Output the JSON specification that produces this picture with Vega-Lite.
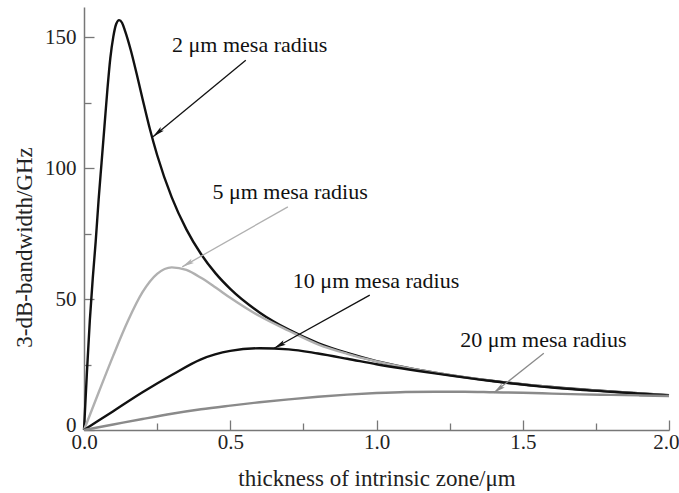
{
  "$schema": "https://vega.github.io/schema/vega-lite/v6.json",
  "width": 585,
  "height": 423,
  "autosize": "none",
  "padding": {"left": 84, "top": 7, "right": 10, "bottom": 63},
  "background": "white",
  "config": {
    "view": {"stroke": null},
    "font": "Liberation Serif",
    "axis": {
      "labelFont": "Liberation Serif",
      "titleFont": "Liberation Serif",
      "labelFontSize": 21,
      "titleFontSize": 23,
      "titleFontWeight": "normal",
      "labelColor": "#222",
      "titleColor": "#222",
      "domainColor": "#777",
      "domainWidth": 1.5,
      "tickColor": "#777",
      "tickWidth": 1.3,
      "grid": false
    }
  },
  "datasets": {
    "curves": [
      {"series": "2", "d": 0, "f": 0},
      {"series": "2", "d": 0.01, "f": 22},
      {"series": "2", "d": 0.02, "f": 42},
      {"series": "2", "d": 0.03, "f": 58},
      {"series": "2", "d": 0.04, "f": 72},
      {"series": "2", "d": 0.05, "f": 88},
      {"series": "2", "d": 0.06, "f": 102},
      {"series": "2", "d": 0.07, "f": 116},
      {"series": "2", "d": 0.08, "f": 130},
      {"series": "2", "d": 0.09, "f": 142},
      {"series": "2", "d": 0.1, "f": 150},
      {"series": "2", "d": 0.11, "f": 155},
      {"series": "2", "d": 0.12, "f": 156.5},
      {"series": "2", "d": 0.13, "f": 155.5},
      {"series": "2", "d": 0.14, "f": 152.5},
      {"series": "2", "d": 0.16, "f": 145},
      {"series": "2", "d": 0.18, "f": 136},
      {"series": "2", "d": 0.2, "f": 126.5},
      {"series": "2", "d": 0.225, "f": 115},
      {"series": "2", "d": 0.25, "f": 105},
      {"series": "2", "d": 0.3, "f": 88.8},
      {"series": "2", "d": 0.35, "f": 76.6},
      {"series": "2", "d": 0.4, "f": 67.2},
      {"series": "2", "d": 0.45, "f": 59.8},
      {"series": "2", "d": 0.5, "f": 53.9},
      {"series": "2", "d": 0.6, "f": 44.9},
      {"series": "2", "d": 0.7, "f": 38.3},
      {"series": "2", "d": 0.8, "f": 33.2},
      {"series": "2", "d": 0.9, "f": 29.4},
      {"series": "2", "d": 1.0, "f": 26.3},
      {"series": "2", "d": 1.1, "f": 23.9},
      {"series": "2", "d": 1.2, "f": 21.9},
      {"series": "2", "d": 1.4, "f": 18.7},
      {"series": "2", "d": 1.6, "f": 16.4},
      {"series": "2", "d": 1.8, "f": 14.7},
      {"series": "2", "d": 2.0, "f": 13.3},
      {"series": "5", "d": 0, "f": 0},
      {"series": "5", "d": 0.05, "f": 14.3},
      {"series": "5", "d": 0.1, "f": 28.4},
      {"series": "5", "d": 0.15, "f": 41.6},
      {"series": "5", "d": 0.2, "f": 52.6},
      {"series": "5", "d": 0.25, "f": 59.6},
      {"series": "5", "d": 0.3, "f": 62.1},
      {"series": "5", "d": 0.35, "f": 61.1},
      {"series": "5", "d": 0.4, "f": 58.1},
      {"series": "5", "d": 0.45, "f": 54.4},
      {"series": "5", "d": 0.5, "f": 50.5},
      {"series": "5", "d": 0.6, "f": 43.5},
      {"series": "5", "d": 0.7, "f": 37.9},
      {"series": "5", "d": 0.8, "f": 32.7},
      {"series": "5", "d": 0.9, "f": 29.1},
      {"series": "5", "d": 1.0, "f": 26.2},
      {"series": "5", "d": 1.2, "f": 21.85},
      {"series": "5", "d": 1.4, "f": 18.67},
      {"series": "5", "d": 1.6, "f": 16.38},
      {"series": "5", "d": 1.8, "f": 14.69},
      {"series": "5", "d": 2.0, "f": 13.29},
      {"series": "10", "d": 0, "f": 0},
      {"series": "10", "d": 0.1, "f": 7.2},
      {"series": "10", "d": 0.2, "f": 14.4},
      {"series": "10", "d": 0.3, "f": 21.0},
      {"series": "10", "d": 0.4, "f": 27.0},
      {"series": "10", "d": 0.5, "f": 30.2},
      {"series": "10", "d": 0.6, "f": 31.2},
      {"series": "10", "d": 0.7, "f": 30.8},
      {"series": "10", "d": 0.8, "f": 29.2},
      {"series": "10", "d": 0.9, "f": 27.2},
      {"series": "10", "d": 1.0, "f": 25.1},
      {"series": "10", "d": 1.2, "f": 21.6},
      {"series": "10", "d": 1.4, "f": 18.6},
      {"series": "10", "d": 1.6, "f": 16.2},
      {"series": "10", "d": 1.8, "f": 14.6},
      {"series": "10", "d": 2.0, "f": 13.2},
      {"series": "20", "d": 0, "f": 0},
      {"series": "20", "d": 0.1, "f": 2.1},
      {"series": "20", "d": 0.2, "f": 4.2},
      {"series": "20", "d": 0.3, "f": 6.2},
      {"series": "20", "d": 0.4, "f": 7.9},
      {"series": "20", "d": 0.5, "f": 9.3},
      {"series": "20", "d": 0.6, "f": 10.6},
      {"series": "20", "d": 0.7, "f": 11.7},
      {"series": "20", "d": 0.8, "f": 12.7},
      {"series": "20", "d": 0.9, "f": 13.5},
      {"series": "20", "d": 1.0, "f": 14.1},
      {"series": "20", "d": 1.1, "f": 14.5},
      {"series": "20", "d": 1.2, "f": 14.6},
      {"series": "20", "d": 1.3, "f": 14.6},
      {"series": "20", "d": 1.4, "f": 14.4},
      {"series": "20", "d": 1.5, "f": 14.2},
      {"series": "20", "d": 1.6, "f": 13.9},
      {"series": "20", "d": 1.7, "f": 13.6},
      {"series": "20", "d": 1.8, "f": 13.4},
      {"series": "20", "d": 1.9, "f": 13.2},
      {"series": "20", "d": 2.0, "f": 13.0}
    ],
    "labels": [
      {"series": "2", "text": "2 μm mesa radius", "d": 0.301, "f": 144.3},
      {"series": "5", "text": "5 μm mesa radius", "d": 0.439, "f": 88.1},
      {"series": "10", "text": "10 μm mesa radius", "d": 0.714, "f": 54.1},
      {"series": "20", "text": "20 μm mesa radius", "d": 1.286, "f": 31.8}
    ],
    "arrows": [
      {"series": "2", "d": 0.553, "f": 141.2, "d2": 0.236, "f2": 112.0, "dir": 230},
      {"series": "5", "d": 0.697, "f": 85.2, "d2": 0.336, "f2": 62.3, "dir": 240},
      {"series": "10", "d": 0.977, "f": 51.5, "d2": 0.65, "f2": 31.2, "dir": 241},
      {"series": "20", "d": 1.572, "f": 29.3, "d2": 1.401, "f2": 14.2, "dir": 232}
    ]
  },
  "layer": [
    {
      "data": {"name": "curves"},
      "mark": {"type": "line", "interpolate": "monotone", "strokeWidth": 2.4},
      "encoding": {
        "x": {
          "field": "d", "type": "quantitative",
          "scale": {"domain": [0, 2], "nice": false, "zero": false},
          "axis": {
            "title": "thickness of intrinsic zone/μm",
            "values": [0, 0.25, 0.5, 0.75, 1, 1.25, 1.5, 1.75, 2],
            "labelExpr": "datum.value % 0.5 == 0 ? format(datum.value, '.1f') : ''",
            "tickSize": {"condition": {"test": "datum.value % 0.5 == 0", "value": -10}, "value": -7},
            "labelAlign": {"condition": {"test": "datum.value == 2", "value": "right"}, "value": "center"},
            "labelOffset": {"condition": {"test": "datum.value == 2", "value": 10}, "value": 0},
            "labelPadding": 11,
            "titlePadding": 12,
            "labelFlush": false,
            "labelOverlap": false
          }
        },
        "y": {
          "field": "f", "type": "quantitative",
          "scale": {"domain": [0, 161.5], "nice": false},
          "axis": {
            "title": "3-dB-bandwidth/GHz",
            "values": [0, 25, 50, 75, 100, 125, 150],
            "labelExpr": "datum.value % 50 == 0 ? format(datum.value, 'd') : ''",
            "tickSize": {"condition": {"test": "datum.value % 50 == 0", "value": -10}, "value": -7},
            "labelPadding": 18,
            "labelBaseline": {"condition": {"test": "datum.value == 0", "value": "bottom"}, "value": "middle"},
            "labelOffset": {"condition": {"test": "datum.value == 0", "value": 5}, "value": 0},
            "titleX": -48,
            "titleY": 240,
            "labelFlush": false,
            "labelOverlap": false
          }
        },
        "color": {
          "field": "series", "type": "nominal",
          "scale": {"domain": ["2", "5", "10", "20"], "range": ["#111111", "#b0b0b0", "#111111", "#8a8a8a"]},
          "legend": null
        },
        "order": {"field": "d", "type": "quantitative"}
      }
    },
    {
      "data": {"name": "arrows"},
      "mark": {"type": "rule", "strokeWidth": 1.3},
      "encoding": {
        "x": {"field": "d", "type": "quantitative"},
        "y": {"field": "f", "type": "quantitative"},
        "x2": {"field": "d2"},
        "y2": {"field": "f2"},
        "color": {"field": "series", "type": "nominal", "legend": null}
      }
    },
    {
      "data": {"name": "arrows"},
      "mark": {"type": "point", "shape": "M0,0L-0.42,2L0,1.6L0.42,2Z", "filled": true, "opacity": 1, "size": 144, "strokeWidth": 0},
      "encoding": {
        "x": {"field": "d2", "type": "quantitative"},
        "y": {"field": "f2", "type": "quantitative"},
        "angle": {"field": "dir", "type": "quantitative", "scale": null},
        "color": {"field": "series", "type": "nominal", "legend": null}
      }
    },
    {
      "data": {"name": "labels"},
      "mark": {"type": "text", "align": "left", "baseline": "alphabetic", "font": "Liberation Serif", "fontSize": 22, "color": "#111"},
      "encoding": {
        "x": {"field": "d", "type": "quantitative"},
        "y": {"field": "f", "type": "quantitative"},
        "text": {"field": "text"}
      }
    }
  ]
}
